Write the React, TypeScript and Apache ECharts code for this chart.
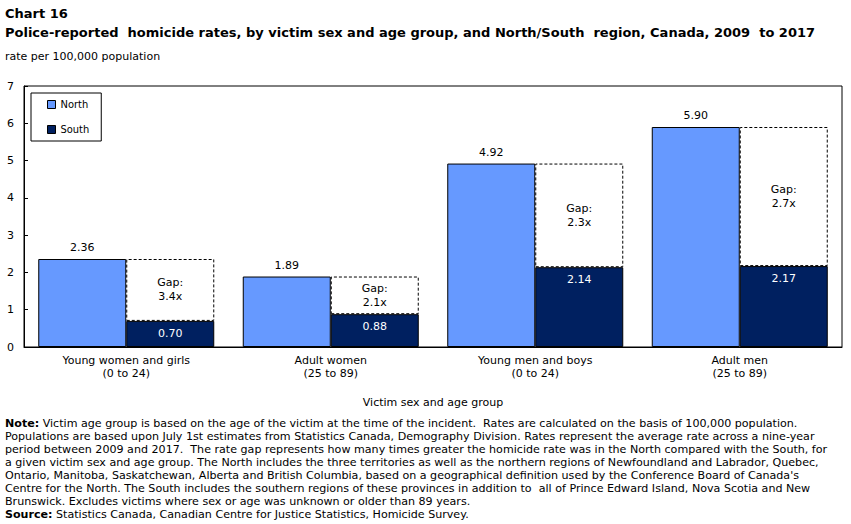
import React, { useEffect, useRef } from "react";
import * as echarts from "echarts";

// Victim groups along the horizontal axis
const categories = [
  "Young women and girls\n(0 to 24)",
  "Adult women\n(25 to 89)",
  "Young men and boys\n(0 to 24)",
  "Adult men\n(25 to 89)",
];

// Homicide rates per 100,000 population
const northRates = [2.36, 1.89, 4.92, 5.9];
const southRates = [0.7, 0.88, 2.14, 2.17];

// North-to-South rate gap (times greater)
const gapRatios = [3.4, 2.1, 2.3, 2.7];

const yTicks = [0, 1, 2, 3, 4, 5, 6, 7];

const noteLines = [
  "Victim age group is based on the age of the victim at the time of the incident.  Rates are calculated on the basis of 100,000 population.",
  "Populations are based upon July 1st estimates from Statistics Canada, Demography Division. Rates represent the average rate across a nine-year",
  "period between 2009 and 2017.  The rate gap represents how many times greater the homicide rate was in the North compared with the South, for",
  "a given victim sex and age group. The North includes the three territories as well as the northern regions of Newfoundland and Labrador, Quebec,",
  "Ontario, Manitoba, Saskatchewan, Alberta and British Columbia, based on a geographical definition used by the Conference Board of Canada's",
  "Centre for the North. The South includes the southern regions of these provinces in addition to  all of Prince Edward Island, Nova Scotia and New",
  "Brunswick. Excludes victims where sex or age was unknown or older than 89 years.",
];
const sourceLine = "Statistics Canada, Canadian Centre for Justice Statistics, Homicide Survey.";

const NORTH = "#6699FF";
const SOUTH = "#002060";
const SANS = "'DejaVu Sans', Verdana, sans-serif";
const NARROW = "'DejaVu Sans Condensed', Tahoma, sans-serif";

export default function App() {
  const ref = useRef<HTMLDivElement>(null);

  useEffect(() => {
    if (!ref.current) return;
    const chart = echarts.init(ref.current, null, { renderer: "svg" });

    const gapValues = northRates.map((n, i) => +(n - southRates[i]).toFixed(2));

    const noteSize = 11.1;
    const noteFont = `${noteSize}px ${SANS}`;
    const boldRich = {
      b: { fontFamily: SANS, fontSize: noteSize, fontWeight: "bold", fill: "#000" },
    };
    const noteGraphics: any[] = noteLines.map((line, i) => ({
      type: "text",
      left: 5,
      top: 418 + i * 13,
      style: {
        text: i === 0 ? `{b|Note:} ${line}` : line,
        font: noteFont,
        fill: "#000",
        rich: boldRich,
      },
    }));
    noteGraphics.push({
      type: "text",
      left: 5,
      top: 418 + noteLines.length * 13,
      style: {
        text: `{b|Source:} ${sourceLine}`,
        font: noteFont,
        fill: "#000",
        rich: boldRich,
      },
    });

    chart.setOption({
      animation: false,
      backgroundColor: "#fff",
      grid: {
        left: 24,
        right: 9,
        top: 86,
        bottom: 177,
        show: true,
        borderColor: "#000",
        borderWidth: 1,
      },
      legend: {
        data: ["North", "South"],
        orient: "vertical",
        left: 31,
        top: 93,
        icon: "rect",
        itemWidth: 8,
        itemHeight: 8,
        itemGap: 14,
        padding: [6, 12, 6, 16],
        borderColor: "#000",
        borderWidth: 1,
        textStyle: { fontFamily: NARROW, fontSize: 11, color: "#000" },
        itemStyle: { borderColor: "#000", borderWidth: 1 },
      },
      xAxis: {
        type: "category",
        data: categories,
        name: "Victim sex and age group",
        nameLocation: "middle",
        nameGap: 50,
        nameTextStyle: { fontFamily: SANS, fontSize: 11, color: "#000" },
        axisLine: { lineStyle: { color: "#000", width: 1 } },
        axisTick: { show: false },
        axisLabel: {
          fontFamily: SANS,
          fontSize: 11,
          color: "#000",
          lineHeight: 13,
          margin: 7,
        },
      },
      yAxis: {
        type: "value",
        min: yTicks[0],
        max: yTicks[yTicks.length - 1],
        interval: 1,
        axisLine: { show: true, lineStyle: { color: "#000", width: 1 } },
        axisTick: { show: true, inside: true, length: 4, lineStyle: { color: "#000" } },
        splitLine: { show: false },
        axisLabel: { fontFamily: SANS, fontSize: 11, color: "#000", margin: 10 },
      },
      series: [
        {
          name: "North",
          type: "bar",
          stack: "north",
          data: northRates,
          barWidth: 88,
          barGap: "0%",
          itemStyle: { color: NORTH, borderColor: "#000", borderWidth: 1 },
          label: {
            show: true,
            position: "top",
            distance: 6,
            formatter: (p: any) => p.value.toFixed(2),
            fontFamily: SANS,
            fontSize: 11,
            color: "#000",
          },
        },
        {
          name: "South",
          type: "bar",
          stack: "south",
          data: southRates,
          barWidth: 88,
          barGap: "0%",
          itemStyle: { color: SOUTH, borderColor: "#000", borderWidth: 1 },
          label: {
            show: true,
            position: "insideTop",
            distance: 7,
            formatter: (p: any) => p.value.toFixed(2),
            fontFamily: SANS,
            fontSize: 11,
            color: "#fff",
          },
        },
        {
          name: "Gap",
          type: "bar",
          stack: "south",
          data: gapValues,
          barWidth: 88,
          barGap: "0%",
          itemStyle: {
            color: "#fff",
            borderColor: "#000",
            borderWidth: 1,
            borderType: [3, 2],
          },
          label: {
            show: true,
            position: "inside",
            formatter: (p: any) => `Gap:\n${gapRatios[p.dataIndex].toFixed(1)}x`,
            fontFamily: SANS,
            fontSize: 11,
            lineHeight: 14,
            color: "#000",
          },
        },
      ],
      graphic: [
        {
          type: "text",
          left: 5,
          top: 7,
          style: { text: "Chart 16", font: `bold 13px ${SANS}`, fill: "#000" },
        },
        {
          type: "text",
          left: 5,
          top: 26,
          style: {
            text: "Police-reported  homicide rates, by victim sex and age group, and North/South  region, Canada, 2009  to 2017",
            font: `bold 13px ${SANS}`,
            fill: "#000",
          },
        },
        {
          type: "text",
          left: 5,
          top: 51,
          style: { text: "rate per 100,000 population", font: `11px ${SANS}`, fill: "#000" },
        },
        ...noteGraphics,
      ],
    });

    return () => chart.dispose();
  }, []);

  return (
    <div
      ref={ref}
      style={{ position: "fixed", left: 0, top: 0, width: 851, height: 524, background: "#fff" }}
    />
  );
}
